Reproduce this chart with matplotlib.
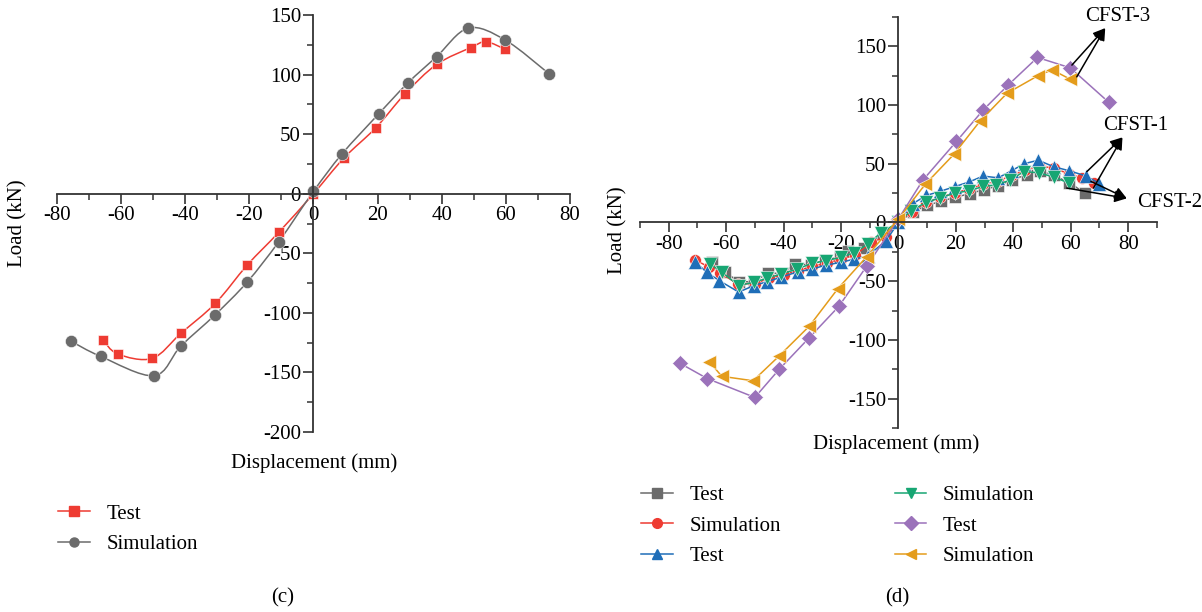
import numpy as np
import matplotlib
matplotlib.use("Agg")
import matplotlib.pyplot as plt
from matplotlib.path import Path
from matplotlib.patches import PathPatch
from matplotlib.ticker import MultipleLocator

plt.rcParams['font.family'] = ['Liberation Serif', 'DejaVu Serif']
plt.rcParams['axes.unicode_minus'] = False

# ---- panel (c) data ----
c_test_x = [-65.8, -61.0, -50.3, -41.4, -30.6, -20.7, -10.8, 0.0, 9.5, 19.5, 28.6, 38.4, 49.1, 53.8, 59.8]
c_test_y = [-122.4, -134.6, -138.2, -117.3, -92.0, -60.0, -32.3, 0.0, 30.0, 55.5, 84.0, 108.5, 122.7, 127.5, 121.2]
c_sim_x = [-75.6, -66.4, -49.7, -41.4, -30.6, -20.7, -10.8, 0.0, 8.9, 20.3, 29.4, 38.4, 48.3, 59.8, 73.5]
c_sim_y = [-123.8, -136.5, -152.7, -128.0, -101.4, -74.2, -40.2, 2.0, 33.4, 66.9, 92.9, 115.0, 139.0, 129.0, 100.6]

# ---- panel (d) data ----
cfst2_test_x = [-64.9, -60.3, -55.6, -50.3, -45.4, -40.5, -36.0, -30.5, -25.5, -20.5, -17.4, -12.0, -5.5, 0.0,
                5.0, 9.9, 14.8, 19.8, 24.8, 29.7, 34.5, 39.4, 44.6, 49.2, 54.0, 59.5, 64.8]
cfst2_test_y = [-33.5, -42.5, -50.4, -50.5, -43.0, -43.5, -35.4, -36.0, -32.0, -29.5, -24.2, -22.0, -10.0, 0.0,
                9.0, 14.5, 18.0, 21.5, 24.5, 28.0, 31.0, 36.3, 40.5, 44.0, 40.0, 34.0, 25.0]
cfst1_sim_x = [-70.8, -66.0, -62.0, -56.0, -50.0, -45.0, -40.0, -35.0, -30.0, -25.0, -20.0, -15.0, -9.4, -4.4, 0.0,
               4.7, 9.7, 14.6, 19.6, 24.6, 29.5, 34.5, 39.4, 44.2, 49.0, 54.0, 59.5, 64.0, 68.0]
cfst1_sim_y = [-31.8, -38.0, -43.0, -52.3, -52.0, -47.5, -44.5, -41.0, -37.5, -34.5, -31.5, -27.5, -17.0, -12.0, 0.0,
               9.0, 17.0, 21.5, 25.0, 28.5, 32.5, 35.0, 40.0, 44.5, 48.5, 46.0, 41.5, 37.5, 34.0]
cfst1_test_x = [-70.8, -66.7, -62.4, -55.6, -50.3, -45.7, -41.0, -35.0, -30.0, -25.3, -20.1, -15.4, -10.7, -4.4, 0.0,
                5.0, 9.7, 14.5, 19.6, 24.6, 29.5, 34.7, 39.4, 43.7, 48.7, 54.0, 59.5, 65.4, 70.0]
cfst1_test_y = [-33.5, -42.5, -49.5, -59.3, -53.7, -50.4, -46.7, -42.0, -39.7, -36.3, -34.0, -31.2, -28.4, -15.8, 0.0,
                16.0, 23.0, 26.5, 30.5, 34.5, 39.5, 38.0, 44.0, 50.0, 53.0, 47.5, 44.0, 39.5, 33.0]
cfst2_sim_x = [-65.5, -61.4, -55.6, -50.3, -45.7, -41.0, -35.2, -30.0, -25.3, -20.1, -15.4, -10.7, -6.1, 0.0,
               4.4, 9.5, 14.3, 19.6, 24.6, 29.5, 34.1, 38.8, 43.7, 48.9, 54.0, 59.5]
cfst2_sim_y = [-35.4, -42.5, -53.7, -50.9, -47.5, -43.9, -39.7, -34.6, -32.6, -29.8, -25.6, -18.6, -8.7, 0.0,
               10.0, 17.0, 20.8, 25.0, 27.0, 30.7, 32.0, 36.0, 43.3, 42.4, 38.6, 33.5]
cfst3_test_x = [-76.0, -66.5, -50.0, -41.5, -31.0, -20.7, -11.0, 0.0, 8.5, 20.2, 29.4, 38.2, 48.4, 59.8, 73.2]
cfst3_test_y = [-120.0, -133.0, -149.0, -125.0, -98.0, -71.3, -37.0, 3.0, 36.0, 69.0, 95.5, 117.0, 140.5, 131.7, 102.4]
cfst3_sim_x = [-65.9, -61.5, -50.6, -41.5, -31.0, -21.1, -11.0, 0.0, 9.3, 19.3, 28.4, 37.8, 48.6, 53.5, 59.8]
cfst3_sim_y = [-118.4, -131.0, -134.8, -113.6, -88.2, -56.4, -29.0, 3.0, 32.4, 58.0, 86.3, 110.0, 125.0, 130.0, 122.0]

RED = '#EE3B32'
GRAY = '#6B6B6B'
BLUE = '#1F6EB8'
GREEN = '#17A673'
PURPLE = '#9B72BA'
ORANGE = '#E49C1B'
AX = '#333333'
FS = 15


def smooth_path(x, y):
    # catmull-rom through the points, as cubic beziers
    pts = np.column_stack([x, y])
    n = len(pts)
    verts = [pts[0]]
    codes = [Path.MOVETO]
    for i in range(n - 1):
        p0 = pts[max(i - 1, 0)]
        p1 = pts[i]
        p2 = pts[i + 1]
        p3 = pts[min(i + 2, n - 1)]
        verts += [p1 + (p2 - p0) / 6.0, p2 - (p3 - p1) / 6.0, p2]
        codes += [Path.CURVE4] * 3
    return Path(verts, codes)


def style_axes(ax, xlim, ylim, ystep):
    ax.set_xlim(*xlim)
    ax.set_ylim(*ylim)
    for s in ['top', 'right']:
        ax.spines[s].set_visible(False)
    for s in ['left', 'bottom']:
        ax.spines[s].set_position(('data', 0))
        ax.spines[s].set_color(AX)
        ax.spines[s].set_linewidth(1.3)
    ax.xaxis.set_major_locator(MultipleLocator(20))
    ax.xaxis.set_minor_locator(MultipleLocator(10))
    ax.yaxis.set_major_locator(MultipleLocator(ystep))
    ax.yaxis.set_minor_locator(MultipleLocator(ystep / 2))
    ax.tick_params(which='major', length=7, width=1.2, color=AX, labelsize=FS, pad=2)
    ax.tick_params(which='minor', length=4.5, width=1.1, color=AX)
    ax.patch.set_alpha(0)


fig = plt.figure(figsize=(12.02, 6.12), dpi=100)

# ---------------- (c) ----------------
ax1 = fig.add_axes([0.0474, 0.2941, 0.4268, 0.6814])
style_axes(ax1, (-80, 80), (-200, 150), 50)
ax1.set_xticks(np.arange(-80, 81, 20))
ax1.add_patch(PathPatch(smooth_path(c_test_x, c_test_y), fill=False, ec=RED, lw=1.1, transform=ax1.transData))
ax1.add_patch(PathPatch(smooth_path(c_sim_x, c_sim_y), fill=False, ec=GRAY, lw=1.1, transform=ax1.transData))
ax1.plot(c_test_x, c_test_y, ls='none', marker='s', ms=7.8, color=RED, mec='white', mew=0.4)
ax1.plot(c_sim_x, c_sim_y, ls='none', marker='o', ms=8.8, color=GRAY, mec='white', mew=0.4)

h1 = [plt.Line2D([], [], color=RED, lw=1.1, marker='s', ms=6.5),
      plt.Line2D([], [], color=GRAY, lw=1.1, marker='o', ms=6.5)]
fig.legend(h1, ['Test', 'Simulation'], loc='upper left', bbox_to_anchor=(0.033, 0.207),
           frameon=False, fontsize=FS, handlelength=1.5, handletextpad=0.8, labelspacing=0.52)

fig.text(0.2612, 0.2435, 'Displacement (mm)', ha='center', va='center', fontsize=FS)
fig.text(0.015, 0.6356, 'Load (kN)', ha='center', va='center', rotation=90, fontsize=FS)
fig.text(0.2354, 0.0229, '(c)', ha='center', va='center', fontsize=FS)

# ---------------- (d) ----------------
ax2 = fig.add_axes([0.5324, 0.3007, 0.4301, 0.6716])
style_axes(ax2, (-90, 90), (-175, 175), 50)
ax2.set_xticks(np.arange(-80, 81, 20))
ax2.set_yticks(np.arange(-150, 151, 50))

series = [
    (cfst2_test_x, cfst2_test_y, GRAY, 's', 8.0, 'Test'),
    (cfst1_sim_x, cfst1_sim_y, RED, 'o', 8.5, 'Simulation'),
    (cfst1_test_x, cfst1_test_y, BLUE, '^', 10.0, 'Test'),
    (cfst2_sim_x, cfst2_sim_y, GREEN, 'v', 10.0, 'Simulation'),
    (cfst3_test_x, cfst3_test_y, PURPLE, 'D', 8.5, 'Test'),
    (cfst3_sim_x, cfst3_sim_y, ORANGE, '<', 10.0, 'Simulation'),
]
handles = []
for sx, sy, col, mk, ms, lab in series:
    ax2.plot(sx, sy, color=col, lw=1.1, marker=mk, ms=ms, mec='white', mew=0.4)
    handles.append(plt.Line2D([], [], color=col, lw=1.1, marker=mk, ms=7))

fig.legend(handles[:3], [s[5] for s in series[:3]], loc='upper left', bbox_to_anchor=(0.518, 0.237),
           frameon=False, fontsize=FS, handlelength=1.5, handletextpad=0.8, labelspacing=0.52)
fig.legend(handles[3:], [s[5] for s in series[3:]], loc='upper left', bbox_to_anchor=(0.729, 0.237),
           frameon=False, fontsize=FS, handlelength=1.5, handletextpad=0.8, labelspacing=0.52)

arrow = dict(arrowstyle='-|>', color='black', lw=1.1, mutation_scale=18, shrinkA=0, shrinkB=0)
for tx, ty in [(60.4, 134.0), (62.1, 124.0)]:
    ax2.annotate('', xy=(72.0, 165.5), xytext=(tx, ty), arrowprops=arrow)
for tx, ty in [(65.6, 43.3), (67.9, 29.3)]:
    ax2.annotate('', xy=(78.0, 72.5), xytext=(tx, ty), arrowprops=arrow)
for tx, ty in [(58.6, 29.3), (67.0, 35.0)]:
    ax2.annotate('', xy=(79.5, 20.5), xytext=(tx, ty), arrowprops=arrow)
ax2.text(76.3, 175.5, 'CFST-3', ha='center', va='center', fontsize=FS, clip_on=False)
ax2.text(82.5, 82.7, 'CFST-1', ha='center', va='center', fontsize=FS, clip_on=False)
ax2.text(94.5, 16.6, 'CFST-2', ha='center', va='center', fontsize=FS, clip_on=False)

fig.text(0.7454, 0.2745, 'Displacement (mm)', ha='center', va='center', fontsize=FS)
fig.text(0.514, 0.624, 'Load (kN)', ha='center', va='center', rotation=90, fontsize=FS)
fig.text(0.7463, 0.0229, '(d)', ha='center', va='center', fontsize=FS)

fig.savefig('out.png', dpi=100)
